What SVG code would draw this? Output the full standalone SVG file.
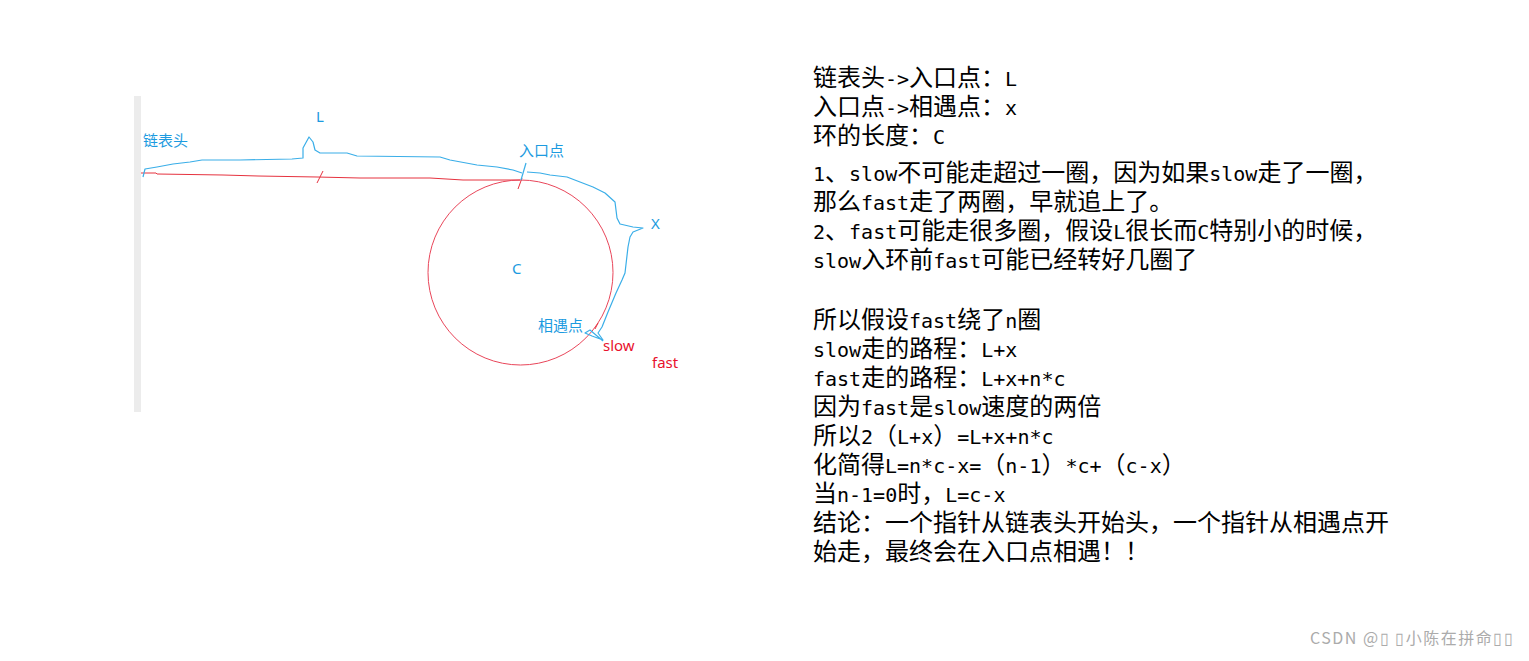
<svg xmlns="http://www.w3.org/2000/svg" width="1529" height="661" viewBox="0 0 1529 661">
<style>
.t{font-family:"Noto Sans CJK SC","Noto Sans CJK JP",sans-serif;font-size:24px;fill:#000}
.m{font-family:"DejaVu Sans Mono","Liberation Mono",monospace;font-size:20px}
.lb{font-family:"Noto Sans","Noto Sans CJK SC",sans-serif;font-size:15px;fill:#1c9be0}
.lr{font-family:"Noto Sans","Noto Sans CJK SC",sans-serif;font-size:15px;fill:#e8112d}
.bl{fill:none;stroke:#3aaee8;stroke-width:1.2;stroke-linejoin:round}
.rd{fill:none;stroke:#e6323f;stroke-width:1}
.wm{font-family:"Noto Sans CJK SC","Noto Sans",sans-serif;font-size:16px;letter-spacing:1.5px;fill:#ababab}
</style>
<rect width="1529" height="661" fill="#ffffff"/>
<rect id="wall" x="134" y="96" width="7" height="316" fill="#ececec"/>
<g id="connectors">
<path class="rd" d="M141,173 L156,173 L157,174 L223,175 L258,176 L317,177 L360,178 L430,178 L463,180 L520,180"/>
<circle id="loop" cx="520.5" cy="272.5" r="92.5" fill="none" stroke="#e9465a" stroke-width="1"/>
<path class="rd" d="M317,183 L323,171"/>
<path class="rd" d="M522,178 L518,189"/>
<path class="rd" d="M598,323 L595,329"/>
<path class="bl" d="M143,177 L145,169 L157,167 L173,164 L190,162 L202,160 L240,160 L292,159 L303,158 L303,148 L309,137 L313,142 L315,150 L320,153 L347,153 L357,156 L440,157 L450,160 L477,165 L497,167 L513,170 L522,173"/>
<path class="bl" d="M526,163 L521,180"/>
<path class="bl" d="M527,172 L540,173 L550,175 L567,177 L580,182 L593,187 L605,193 L615,202 L617,218 L620,224 L633,227 L643,228 L633,232 L630,237 L628,247 L625,273 L622,280 L616,293 L608,312 L602,327 L598,333 L603,340 L592,336 L585,333 L590,330 L603,341"/>
</g>
<g id="labels">
<text class="lb" x="143" y="146">链表头</text>
<text class="lb" x="316" y="122">L</text>
<text class="lb" x="519" y="156">入口点</text>
<text class="lb" x="651" y="229">X</text>
<text class="lb" x="512" y="274">C</text>
<text class="lb" x="538" y="331">相遇点</text>
<text class="lr" x="603" y="351">slow</text>
<text class="lr" x="652" y="368">fast</text>
</g>
<g id="notes">
<text class="t" x="813" y="86">链表头<tspan class="m">-&gt;</tspan>入口点：<tspan class="m">L</tspan></text>
<text class="t" x="813" y="115">入口点<tspan class="m">-&gt;</tspan>相遇点：<tspan class="m">x</tspan></text>
<text class="t" x="813" y="144">环的长度：<tspan class="m">C</tspan></text>
<text class="t" x="813" y="181"><tspan class="m">1</tspan>、<tspan class="m">slow</tspan>不可能走超过一圈，因为如果<tspan class="m">slow</tspan>走了一圈，</text>
<text class="t" x="813" y="210">那么<tspan class="m">fast</tspan>走了两圈，早就追上了。</text>
<text class="t" x="813" y="239"><tspan class="m">2</tspan>、<tspan class="m">fast</tspan>可能走很多圈，假设<tspan class="m">L</tspan>很长而<tspan class="m">C</tspan>特别小的时候，</text>
<text class="t" x="813" y="268"><tspan class="m">slow</tspan>入环前<tspan class="m">fast</tspan>可能已经转好几圈了</text>
<text class="t" x="813" y="328">所以假设<tspan class="m">fast</tspan>绕了<tspan class="m">n</tspan>圈</text>
<text class="t" x="813" y="357"><tspan class="m">slow</tspan>走的路程：<tspan class="m">L+x</tspan></text>
<text class="t" x="813" y="386"><tspan class="m">fast</tspan>走的路程：<tspan class="m">L+x+n*c</tspan></text>
<text class="t" x="813" y="415">因为<tspan class="m">fast</tspan>是<tspan class="m">slow</tspan>速度的两倍</text>
<text class="t" x="813" y="444">所以<tspan class="m">2</tspan>（<tspan class="m">L+x</tspan>）<tspan class="m">=L+x+n*c</tspan></text>
<text class="t" x="813" y="473">化简得<tspan class="m">L=n*c-x=</tspan>（<tspan class="m">n-1</tspan>）<tspan class="m">*c+</tspan>（<tspan class="m">c-x</tspan>）</text>
<text class="t" x="813" y="502">当<tspan class="m">n-1=0</tspan>时，<tspan class="m">L=c-x</tspan></text>
<text class="t" x="813" y="531">结论：一个指针从链表头开始头，一个指针从相遇点开</text>
<text class="t" x="813" y="560">始走，最终会在入口点相遇！！</text>
</g>
<text id="watermark" class="wm" x="1310" y="644">CSDN @▯ ▯小陈在拼命▯▯</text>
</svg>
